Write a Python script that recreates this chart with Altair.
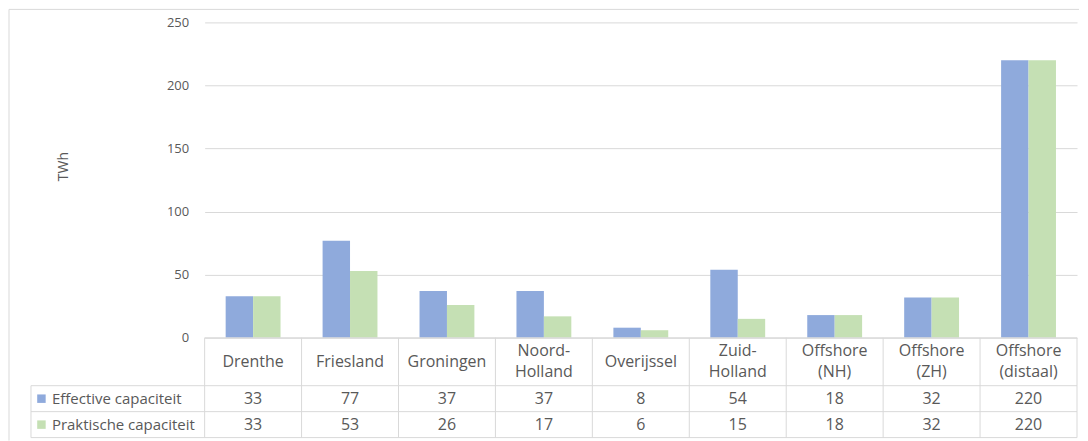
import altair as alt
import pandas as pd

categories = ["Drenthe", "Friesland", "Groningen", "Noord-Holland", "Overijssel",
              "Zuid-Holland", "Offshore (NH)", "Offshore (ZH)", "Offshore (distaal)"]
cat_labels = ["Drenthe", "Friesland", "Groningen", "Noord-\nHolland", "Overijssel",
              "Zuid-\nHolland", "Offshore\n(NH)", "Offshore\n(ZH)", "Offshore\n(distaal)"]
series = ["Effective capaciteit", "Praktische capaciteit"]
effective = [33, 77, 37, 37, 8, 54, 18, 32, 220]
praktisch = [33, 53, 26, 17, 6, 15, 18, 32, 220]
y_ticks = [0, 50, 100, 150, 200, 250]
colors = ["#8FAADC", "#C5E0B4"]

TEXT = "#595959"
LINE = "#D9D9D9"
FONT = "Open Sans"
FS = 16

rows = []
for s, vals in zip(series, [effective, praktisch]):
    for c, v in zip(categories, vals):
        rows.append({"category": c, "series": s, "value": v})
df = pd.DataFrame(rows)
cat_df = pd.DataFrame({"category": categories, "label": cat_labels,
                       "multi": ["\n" in l for l in cat_labels]})
ser_df = pd.DataFrame({"series": series})
one = pd.DataFrame({"a": [0]})

W, H = 874, 316
TH = 100

color = alt.Color("series:N", scale=alt.Scale(domain=series, range=colors), legend=None)

bars = alt.Chart(df).mark_bar().encode(
    x=alt.X("category:N", sort=categories, axis=None,
            scale=alt.Scale(paddingInner=0.434, paddingOuter=0.217)),
    xOffset=alt.XOffset("series:N", sort=series, scale=alt.Scale(paddingInner=0, paddingOuter=0)),
    y=alt.Y("value:Q", scale=alt.Scale(domain=[0, 250]),
            axis=alt.Axis(values=y_ticks, title="TWh", domain=False, ticks=False,
                          labelPadding=16, labelFontSize=13, labelFont=FONT, labelColor=TEXT,
                          gridColor=LINE, titleFont=FONT, titleFontSize=14, titleColor=TEXT,
                          titleFontWeight="normal", titleX=-141, titleY=144,
                          titleBaseline="middle")),
    color=color,
)

border_top = alt.Chart(one).mark_rule(color=LINE, strokeWidth=1).encode(
    x=alt.value(-196), x2=alt.value(876), y=alt.value(-13))
border_left = alt.Chart(one).mark_rule(color=LINE, strokeWidth=1).encode(
    x=alt.value(-196), y=alt.value(-13), y2=alt.value(419))

top = alt.layer(border_top, border_left, bars).properties(width=W, height=H)

# table
x_tab = alt.X("category:N", sort=categories, axis=None,
              scale=alt.Scale(paddingInner=0, paddingOuter=0))
y_ser = alt.Y("series:N", sort=series, axis=None,
              scale=alt.Scale(type="point", domain=series, range=[61, 87], padding=0))

cat_text1 = alt.Chart(cat_df).transform_filter("!datum.multi").mark_text(
    font=FONT, fontSize=FS, color=TEXT, baseline="middle"
).encode(x=x_tab, y=alt.value(24), text="label:N")

cat_text2 = alt.Chart(cat_df).transform_filter("datum.multi").mark_text(
    font=FONT, fontSize=FS, color=TEXT, lineBreak="\n", lineHeight=21, baseline="middle"
).encode(x=x_tab, y=alt.value(13.5), text="label:N")

val_text = alt.Chart(df).mark_text(
    font=FONT, fontSize=FS, color=TEXT, baseline="middle"
).encode(x=x_tab, y=y_ser, text="value:Q")

ser_text = alt.Chart(ser_df).mark_text(
    font=FONT, fontSize=15, color=TEXT, align="left", baseline="middle"
).encode(x=alt.value(-153), y=y_ser, text="series:N")

ser_sq = alt.Chart(ser_df).mark_square(size=72, opacity=1).encode(
    x=alt.value(-163.5), y=y_ser, color=color)

vlines = alt.Chart(cat_df).mark_rule(color=LINE, strokeWidth=1).encode(
    x=alt.X("category:N", sort=categories, bandPosition=0, axis=None,
            scale=alt.Scale(paddingInner=0, paddingOuter=0)),
    y=alt.value(0), y2=alt.value(TH))
vright = alt.Chart(one).mark_rule(color=LINE, strokeWidth=1).encode(
    x=alt.value(W), y=alt.value(0), y2=alt.value(TH))
vleft = alt.Chart(one).mark_rule(color=LINE, strokeWidth=1).encode(
    x=alt.value(-174), y=alt.value(48), y2=alt.value(TH))
h1 = alt.Chart(one).mark_rule(color=LINE, strokeWidth=1).encode(
    x=alt.value(-174), x2=alt.value(W), y=alt.value(48))
h2 = alt.Chart(one).mark_rule(color=LINE, strokeWidth=1).encode(
    x=alt.value(-174), x2=alt.value(W), y=alt.value(74))
h3 = alt.Chart(one).mark_rule(color=LINE, strokeWidth=1).encode(
    x=alt.value(-174), x2=alt.value(W), y=alt.value(TH))
h0 = alt.Chart(one).mark_rule(color=LINE, strokeWidth=1).encode(
    x=alt.value(0), x2=alt.value(W), y=alt.value(0))

table = alt.layer(h0, h1, h2, h3, vlines, vright, vleft, ser_sq, ser_text,
                  cat_text1, cat_text2, val_text).properties(width=W, height=TH)

chart = alt.vconcat(top, table, spacing=0, bounds="flush").resolve_scale(
    x="independent", y="independent"
).properties(padding=0).configure_view(stroke=None)

chart.save("out.html", embed_options={"renderer": "svg", "actions": False})
